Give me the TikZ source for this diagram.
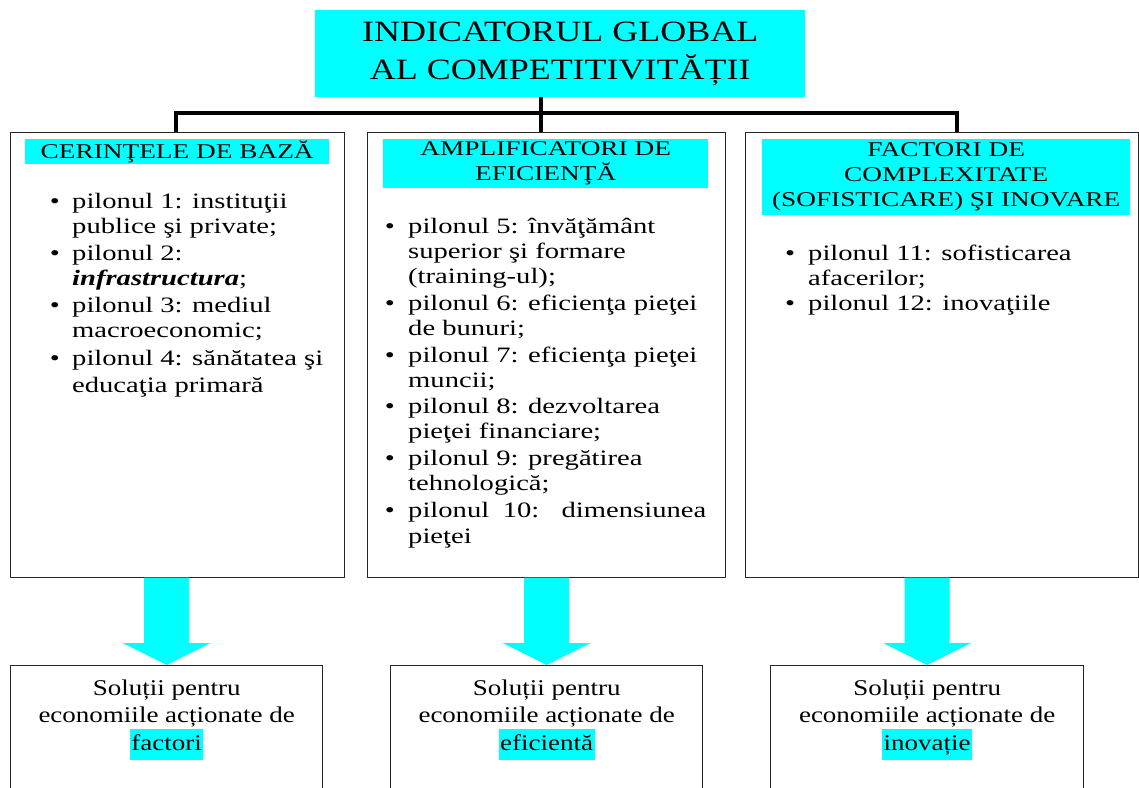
\documentclass[tikz,border=0pt]{standalone}
\usepackage{fontspec}
\setmainfont{Liberation Serif}[FakeStretch=1.3]
\newfontfamily\titlefont{Liberation Serif}[FakeStretch=1.22]
\newfontfamily\botfont{Liberation Serif}[FakeStretch=1.2]
\usetikzlibrary{calc}
\definecolor{cy}{RGB}{0,255,255}
\newcommand{\hl}[1]{{\setlength{\fboxsep}{1.5pt}\colorbox{cy}{\strut #1}}}
\begin{document}
\begin{tikzpicture}[x=1pt,y=-1pt,
  conn/.style={line width=3.6pt,black},
  bigbox/.style={draw=black!85,line width=1.4pt,anchor=north west,inner sep=0pt},
  header/.style={fill=cy,anchor=north west,inner sep=0pt,align=center,
    font=\fontsize{21}{25}\selectfont},
  item/.style={anchor=base west,inner sep=0pt,align=left,
    font=\fontsize{22}{25}\selectfont},
  bul/.style={anchor=base,inner sep=0pt,font=\fontsize{22}{25}\selectfont},
  bottext/.style={anchor=base,inner sep=0pt,align=center,
    font=\botfont\fontsize{22.5}{27.5}\selectfont},
  blockarrow/.style={fill=cy}]
\useasboundingbox (0,0) rectangle (1139,787);

% title
\node[fill=cy,anchor=north west,minimum width=490,minimum height=87,inner sep=0pt,
  align=center,font=\titlefont\fontsize{29.5}{38}\selectfont] (title) at (315,10)
  {INDICATORUL GLOBAL\\AL COMPETITIVITĂȚII};

% middle boxes
\node[bigbox,minimum width=334,minimum height=445] (m1) at (10,132) {};
\node[bigbox,minimum width=358,minimum height=445] (m2) at (367,132) {};
\node[bigbox,minimum width=393,minimum height=445] (m3) at (745,132) {};

% connectors
\coordinate (j) at (541,113);
\coordinate (c1) at (176,113);
\coordinate (c3) at (957,113);
\draw[conn] (j |- title.south) -- (j);
\draw[conn] ([xshift=-1.8pt]c1) -- ([xshift=1.8pt]c3);
\draw[conn] (c1) -- (c1 |- m1.north);
\draw[conn] (j) -- (j |- m2.north);
\draw[conn] (c3) -- (c3 |- m3.north);

% headers
\node[header,minimum width=304,minimum height=25] (h1) at (25,139) {CERINŢELE DE BAZĂ};
\node[header,minimum width=325,minimum height=49] (h2) at (383,139) {AMPLIFICATORI DE\\EFICIENŢĂ};
\node[header,minimum width=368,minimum height=76] (h3) at (762,139) {FACTORI DE\\COMPLEXITATE\\(SOFISTICARE) ŞI INOVARE};

% box 1 items (node base = baseline of last line)
\node[bul] (b11) at (55,208) {•};
\node[item] (t11) at (72,233) {pilonul 1: instituţii\\publice şi private;};
\node[bul] (b12) at (55,260) {•};
\node[item] (t12) at (72,285) {pilonul 2:\\\textbf{\textit{infrastructura}};};
\node[bul] (b13) at (55,312) {•};
\node[item] (t13) at (72,337) {pilonul 3: mediul\\macroeconomic;};
\node[bul] (b14) at (55,365) {•};
\node[item] (t14) at (72,392) {pilonul 4: sănătatea şi\\[2pt]educaţia primară};

% box 2 items
\node[bul] (b21) at (390,233) {•};
\node[item] (t21) at (408,283) {pilonul 5: învăţământ\\superior şi formare\\(training-ul);};
\node[bul] (b22) at (390,310) {•};
\node[item] (t22) at (408,335) {pilonul 6: eficienţa pieţei\\de bunuri;};
\node[bul] (b23) at (390,362) {•};
\node[item] (t23) at (408,387) {pilonul 7: eficienţa pieţei\\muncii;};
\node[bul] (b24) at (390,413) {•};
\node[item] (t24) at (408,438) {pilonul 8: dezvoltarea\\pieţei financiare;};
\node[bul] (b25) at (390,465) {•};
\node[item] (t25) at (408,490) {pilonul 9: pregătirea\\tehnologică;};
\node[bul] (b26) at (390,517) {•};
\node[item] (t26) at (408,543) {\makebox[298pt][s]{pilonul 10: dimensiunea}\\[1pt]pieţei};

% box 3 items
\node[bul] (b31) at (790,260) {•};
\node[item] (t31) at (808,285) {pilonul 11: sofisticarea\\afacerilor;};
\node[bul] (b32) at (790,310) {•};
\node[item] (t32) at (808,310) {pilonul 12: inovaţiile};

% bottom boxes
\node[bigbox,minimum width=312,minimum height=130] (s1) at (10,665) {};
\node[bigbox,minimum width=312,minimum height=130] (s2) at (390,665) {};
\node[bigbox,minimum width=313,minimum height=130] (s3) at (770,665) {};

\node[bottext] (l1) at ($(s1.north)+(0,85)$) {Soluții pentru\\economiile acționate de\\\hl{factori}};
\node[bottext] (l2) at ($(s2.north)+(0,85)$) {Soluții pentru\\economiile acționate de\\\hl{eficientă}};
\node[bottext] (l3) at ($(s3.north)+(0,85)$) {Soluții pentru\\economiile acționate de\\\hl{inovație}};

% block arrows
\foreach \m/\s in {m1/s1,m2/s2,m3/s3}{
  \fill[blockarrow] let \p1=(\s.north), \p2=(\m.south) in
    (\x1-22.5pt,\y2+0.7pt) -- (\x1+22.5pt,\y2+0.7pt) -- (\x1+22.5pt,\y1+22pt)
    -- (\x1+44pt,\y1+22pt) -- (\x1,\y1) -- (\x1-44pt,\y1+22pt)
    -- (\x1-22.5pt,\y1+22pt) -- cycle;
}
\end{tikzpicture}
\end{document}
